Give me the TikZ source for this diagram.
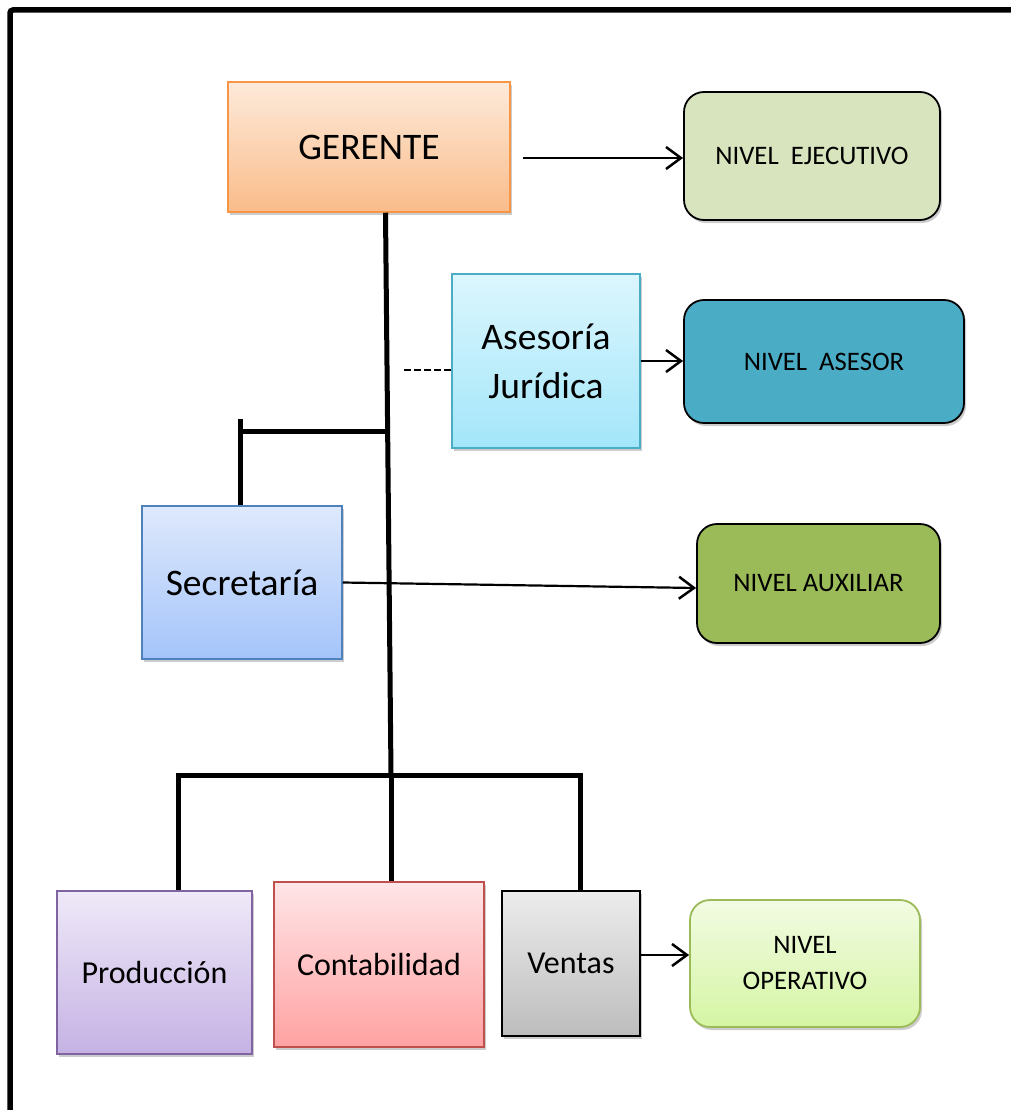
\documentclass[tikz,border=0pt]{standalone}
\usepackage{fontspec}
\setmainfont{Carlito}
\usetikzlibrary{arrows.meta,shadows,calc}
\definecolor{gerTop}{RGB}{253,234,218}
\definecolor{gerBot}{RGB}{250,188,138}
\definecolor{gerLine}{RGB}{247,150,70}
\definecolor{aseTop}{RGB}{220,246,253}
\definecolor{aseBot}{RGB}{163,230,250}
\definecolor{aseLine}{RGB}{75,172,198}
\definecolor{secTop}{RGB}{222,233,252}
\definecolor{secBot}{RGB}{164,196,250}
\definecolor{secLine}{RGB}{79,129,189}
\definecolor{proTop}{RGB}{239,233,248}
\definecolor{proBot}{RGB}{197,178,228}
\definecolor{proLine}{RGB}{128,100,162}
\definecolor{conTop}{RGB}{255,229,231}
\definecolor{conBot}{RGB}{255,162,162}
\definecolor{conLine}{RGB}{192,80,77}
\definecolor{venTop}{RGB}{236,236,236}
\definecolor{venBot}{RGB}{189,189,189}
\definecolor{opeTop}{RGB}{242,251,227}
\definecolor{opeBot}{RGB}{213,245,163}
\definecolor{opeLine}{RGB}{155,187,89}
\definecolor{ejeFill}{RGB}{215,228,189}
\definecolor{asrFill}{RGB}{75,172,198}
\definecolor{auxFill}{RGB}{155,187,89}
\tikzset{
  shad/.style={drop shadow={shadow xshift=2pt,shadow yshift=-3pt,opacity=0.2,fill=black}},
  unitbox/.style={shad,draw,line width=1.5pt,inner sep=0pt,align=center,
    font=\fontsize{37.5}{49}\selectfont},
  lowbox/.style={unitbox,font=\fontsize{32}{38}\selectfont},
  levelbox/.style={shad,draw=black,line width=1.8pt,rounded corners=20pt,inner sep=0pt,
    align=center,font=\fontsize{26.7}{36}\selectfont},
  treeline/.style={line width=5pt},
  arrowline/.style={line width=2.5pt,-{Straight Barb[length=15pt,width=22pt,line width=2.5pt]}},
  frameline/.style={line width=5.5pt}
}
\begin{document}
\begin{tikzpicture}[x=1pt,y=-1pt]
\useasboundingbox (0,0) rectangle (1011,1110);
\clip (0,0) rectangle (1011,1110);
% frame
\draw[frameline,rounded corners=3pt] (10,1130) -- (10,10) -- (1030,10);

% unit boxes
\node[unitbox,draw=gerLine,top color=gerTop,bottom color=gerBot,
  minimum width=282pt,minimum height=130pt] (ger) at (369,147) {GERENTE};
\node[unitbox,draw=aseLine,top color=aseTop,bottom color=aseBot,
  minimum width=188pt,minimum height=174pt] (ase) at (546,361) {Asesoría\\Jurídica};
\node[unitbox,draw=secLine,top color=secTop,bottom color=secBot,
  minimum width=200pt,minimum height=153pt] (sec) at (242,582.5) {Secretaría};
\node[lowbox,draw=proLine,top color=proTop,bottom color=proBot,
  minimum width=195pt,minimum height=163pt] (pro) at (154.5,972.5) {Producción};
\node[lowbox,draw=conLine,top color=conTop,bottom color=conBot,
  minimum width=210pt,minimum height=165pt] (con) at (379,964.5) {Contabilidad};
\node[lowbox,draw=black,top color=venTop,bottom color=venBot,
  minimum width=138pt,minimum height=145pt] (ven) at (571,963.5) {Ventas};

% level boxes
\node[levelbox,fill=ejeFill,minimum width=256pt,minimum height=128pt] (eje) at (812,156) {NIVEL\ \ EJECUTIVO};
\node[levelbox,fill=asrFill,minimum width=280pt,minimum height=123pt] (asr) at (824,361.5) {NIVEL\ \ ASESOR};
\node[levelbox,fill=auxFill,minimum width=243pt,minimum height=119pt] (aux) at (818.5,583.5) {NIVEL AUXILIAR};
\node[levelbox,draw=opeLine,top color=opeTop,bottom color=opeBot,
  minimum width=230pt,minimum height=127pt] (ope) at (805,963.5) {NIVEL\\OPERATIVO};

% tree connectors
\coordinate (j1) at (391,775);
\coordinate (sb) at (386.5,431);
\coordinate (bl) at (178,775);
\coordinate (br) at (580,775);
\coordinate (dl) at (402,370);
\draw[treeline] ([xshift=16.5pt]ger.south) -- (j1);
\draw[treeline] (sb) -- (sb -| sec.north);
\draw[treeline] ([xshift=-2pt]sec.north) -- ++(0,-86);
\draw[treeline] (bl |- pro.north) -- (bl) -- (br) -- (br |- ven.north);
\draw[treeline] (j1) -- (j1 |- con.north);
\draw[line width=2.2pt,dash pattern=on 7.5pt off 2.5pt] (ase.west |- dl) -- (dl);

% arrows
\draw[arrowline] ([yshift=-11pt,xshift=12pt]ger.east) -- ([yshift=-11pt]ger.east -| eje.west);
\draw[arrowline] (ase.east) -- (ase.east -| asr.west);
\draw[arrowline,line width=2.2pt] (sec.east) -- ([yshift=-4.5pt]aux.west);
\draw[arrowline] ([yshift=8.5pt]ven.east) -- ([yshift=8.5pt]ven.east -| ope.west);
\end{tikzpicture}
\end{document}
